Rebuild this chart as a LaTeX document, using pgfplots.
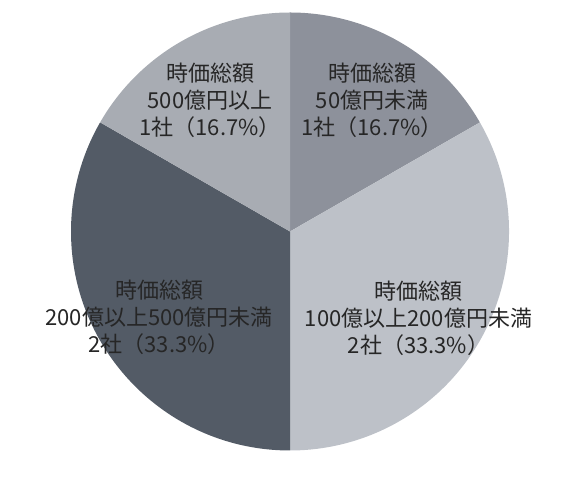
\documentclass[border=0pt]{standalone}
\usepackage{pgfplots}
\usepackage{pgfplotstable}
\pgfplotsset{compat=1.18}
\usepackage{fontspec}
\setmainfont{Noto Sans CJK JP}

\definecolor{sliceA}{HTML}{8D919B}
\definecolor{sliceB}{HTML}{BDC1C8}
\definecolor{sliceC}{HTML}{535B66}
\definecolor{sliceD}{HTML}{A8ACB3}
\definecolor{labeltext}{HTML}{262626}

% share in percent, number of companies
\pgfplotstableread{
share companies
16.7 1
33.3 2
33.3 2
16.7 1
}\pietable

\pgfplotstablegetelem{0}{share}\of\pietable \let\sA\pgfplotsretval
\pgfplotstablegetelem{1}{share}\of\pietable \let\sB\pgfplotsretval
\pgfplotstablegetelem{2}{share}\of\pietable \let\sC\pgfplotsretval
\pgfplotstablegetelem{3}{share}\of\pietable \let\sD\pgfplotsretval
% clockwise from 12 o'clock
\pgfmathsetmacro\aO{90}
\pgfmathsetmacro\aA{\aO-3.6*\sA}
\pgfmathsetmacro\aB{\aA-3.6*\sB}
\pgfmathsetmacro\aC{\aB-3.6*\sC}
\pgfmathsetmacro\aD{\aC-3.6*\sD}

\def\R{164.25pt}

\tikzset{lbl/.style={align=center, text=labeltext, inner sep=0pt,
    font=\fontsize{16.5pt}{20.25pt}\selectfont}}

\begin{document}
\begin{tikzpicture}
\begin{axis}[
    at={(0,0)}, anchor=origin,
    scale only axis,
    width=426pt, height=357.75pt,
    xmin=0, xmax=568, ymin=0, ymax=477,
    hide axis, clip=false,
]
\fill[sliceA] (axis cs:290,245.5) -- ++(\aO:\R) arc[start angle=\aO, end angle=\aA, radius=\R] -- cycle;
\fill[sliceB] (axis cs:290,245.5) -- ++(\aA:\R) arc[start angle=\aA, end angle=\aB, radius=\R] -- cycle;
\fill[sliceC] (axis cs:290,245.5) -- ++(\aB:\R) arc[start angle=\aB, end angle=\aC, radius=\R] -- cycle;
\fill[sliceD] (axis cs:290,245.5) -- ++(\aC:\R) arc[start angle=\aC, end angle=\aD, radius=\R] -- cycle;

\node[lbl] at (axis cs:372,377) {時価総額\\50億円未満\\1社（16.7\%）};
\node[lbl] at (axis cs:418.5,159) {時価総額\\100億以上200億円未満\\2社（33.3\%）};
\node[lbl] at (axis cs:159,160) {時価総額\\200億以上500億円未満\\2社（33.3\%）};
\node[lbl] at (axis cs:210,377) {時価総額\\500億円以上\\1社（16.7\%）};
\end{axis}
\path (0,0) rectangle (426pt,357.75pt);
\end{tikzpicture}
\end{document}
